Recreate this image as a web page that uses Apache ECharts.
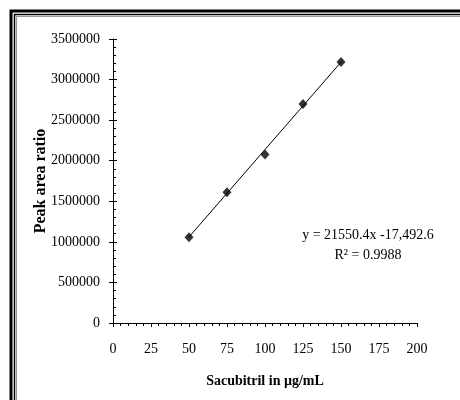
<!DOCTYPE html>
<html>
<head>
<meta charset="utf-8">
<script src="https://cdn.jsdelivr.net/npm/echarts@6/dist/echarts.min.js"></script>
<style>
  html, body { margin: 0; padding: 0; background: #fff; }
  #chart { width: 460px; height: 400px; }
</style>
</head>
<body>
<div id="chart"></div>
<script>
// measured points
const concentration = [50, 75, 100, 125, 150];
const peakRatio = [1058000, 1612000, 2078000, 2698000, 3218000];
// trend line endpoints
const trendX = [50, 150];
const trendY = [1060000, 3215000];
const equationText = 'y = 21550.4x -17,492.6';
const r2Text = 'R\u00b2 = 0.9988';

const chart = echarts.init(document.getElementById('chart'));
const font = '"Liberation Serif", "Times New Roman", serif';

const baseX = {
  type: 'value', min: 0, max: 200, interval: 25,
  axisLine: { lineStyle: { color: '#000', width: 1 } },
  splitLine: { show: false }
};
const baseY = {
  type: 'value', min: 0, max: 3500000, interval: 500000,
  axisLine: { show: true, lineStyle: { color: '#000', width: 1 } },
  splitLine: { show: false }
};

const options = {
  animation: false,
  textStyle: { fontFamily: font },
  grid: { left: 113, right: 43, top: 39, bottom: 77 },
  xAxis: [
    Object.assign({}, baseX, {
      name: 'Sacubitril in \u00b5g/mL',
      nameLocation: 'middle',
      nameGap: 51,
      nameMoveOverlap: false,
      nameTextStyle: { color: '#000', fontSize: 14, fontWeight: 'bold', fontFamily: font },
      axisTick: { show: true, length: 4, lineStyle: { color: '#000' } },
      minorTick: { show: false },
      axisLabel: { color: '#000', fontSize: 14, margin: 19, fontFamily: font }
    }),
    Object.assign({}, baseX, {
      axisLine: { show: false },
      axisTick: { show: true, inside: true, length: 4, lineStyle: { color: '#000' } },
      minorTick: { show: true, splitNumber: 5, length: 3, lineStyle: { color: '#000' } },
      axisLabel: { show: false }
    })
  ],
  yAxis: [
    Object.assign({}, baseY, {
      name: 'Peak area ratio',
      nameLocation: 'middle',
      nameGap: 64,
      nameMoveOverlap: false,
      nameTextStyle: { color: '#000', fontSize: 16, fontWeight: 'bold', fontFamily: font },
      axisTick: { show: true, length: 4, lineStyle: { color: '#000' } },
      axisLabel: { color: '#000', fontSize: 14, margin: 13, fontFamily: font, formatter: v => String(v) }
    }),
    Object.assign({}, baseY, {
      position: 'left',
      axisLine: { show: false },
      axisTick: { show: true, inside: true, length: 4, lineStyle: { color: '#000' } },
      minorTick: { show: true, splitNumber: 5, length: 3, lineStyle: { color: '#000' } },
      axisLabel: { show: false }
    })
  ],
  series: [
    {
      type: 'line',
      data: trendX.map((x, i) => [x, trendY[i]]),
      symbol: 'none',
      lineStyle: { color: '#000', width: 1 },
      z: 2
    },
    {
      type: 'scatter',
      data: concentration.map((x, i) => [x, peakRatio[i]]),
      symbol: 'diamond',
      symbolSize: [9, 10],
      itemStyle: { color: '#000' },
      z: 3
    }
  ],
  graphic: [
    { type: 'rect', shape: { x: 11, y: 11, width: 520, height: 460 }, style: { fill: 'none', stroke: '#000', lineWidth: 3 }, silent: true },
    { type: 'rect', shape: { x: 14.5, y: 14.5, width: 520, height: 460 }, style: { fill: 'none', stroke: '#000', lineWidth: 1.5 }, silent: true },
    { type: 'rect', shape: { x: 16.5, y: 16.5, width: 520, height: 460 }, style: { fill: 'none', stroke: '#999', lineWidth: 1.2 }, silent: true },
    { type: 'text', x: 368, y: 235, style: { text: equationText, align: 'center', verticalAlign: 'middle', fill: '#000', font: '14px ' + font } },
    { type: 'text', x: 368, y: 255, style: { text: r2Text, align: 'center', verticalAlign: 'middle', fill: '#000', font: '14px ' + font } }
  ]
};

chart.setOption(options);
</script>
</body>
</html>
